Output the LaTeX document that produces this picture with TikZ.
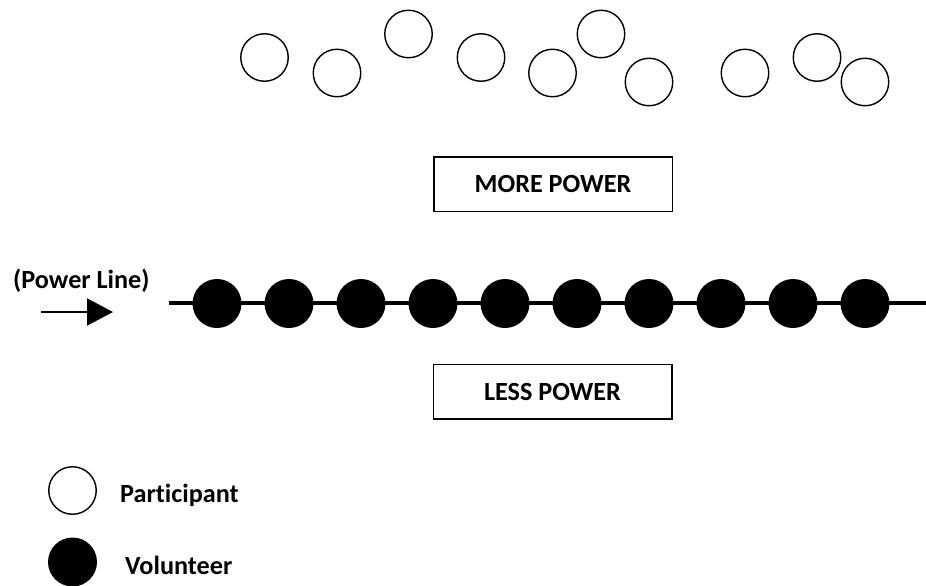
\documentclass[tikz,border=0pt]{standalone}
\usepackage{fontspec}
\setmainfont{Carlito}[Ligatures={NoCommon}]
\usetikzlibrary{arrows.meta}
\tikzset{
  partc/.style={circle, draw=black, fill=white, line width=1.4pt, minimum size=47.5pt, inner sep=0pt},
  volc/.style={circle, fill=black, draw=none, minimum size=49pt, inner sep=0pt},
  powbox/.style={draw=black, line width=1.5pt, minimum width=238.5pt, minimum height=54.5pt, inner sep=0pt, font=\fontsize{26.2}{30}\selectfont\bfseries},
  lbl/.style={inner sep=0pt, anchor=base west, font=\fontsize{26.2}{30}\selectfont\bfseries},
}
\begin{document}
\begin{tikzpicture}[x=1pt,y=-1pt]
\useasboundingbox (0,0) rectangle (926,586);
% participants (top)
\node[partc] (p1) at (264.5,57.5) {};
\node[partc] (p2) at (337,73) {};
\node[partc] (p3) at (408.5,34) {};
\node[partc] (p4) at (481,57.5) {};
\node[partc] (p5) at (552.5,73) {};
\node[partc] (p6) at (601,34) {};
\node[partc] (p7) at (649,82) {};
\node[partc] (p8) at (745,73) {};
\node[partc] (p9) at (817,57.5) {};
\node[partc] (p10) at (865,82) {};
% boxes
\node[powbox] (more) at (553,184) {MORE POWER};
\node[powbox] (less) at (552.5,391.5) {LESS POWER};
% power line
\coordinate (plstart) at (169,303);
\coordinate (plend) at (926,303);
\draw[line width=4pt] (plstart) -- (plend);
\foreach \i [evaluate=\i as \xx using 217+72*(\i-1)] in {1,...,10} {
  \node[volc] (v\i) at (\xx,303.5) {};
}
% label and arrow
\node[lbl] (pltext) at (13,288) {(Power Line)};
\coordinate (arrs) at (41,312);
\coordinate (arre) at (113,312);
\draw[line width=2pt, -{Triangle[length=26pt,width=27pt]}] (arrs) -- (arre);
% legend
\node[partc] (lp) at (72.5,490.5) {};
\node[lbl] (lpt) at (120,502) {Participant};
\node[volc] (lv) at (72.5,562) {};
\node[lbl] (lvt) at (125,574) {Volunteer};
\end{tikzpicture}
\end{document}
